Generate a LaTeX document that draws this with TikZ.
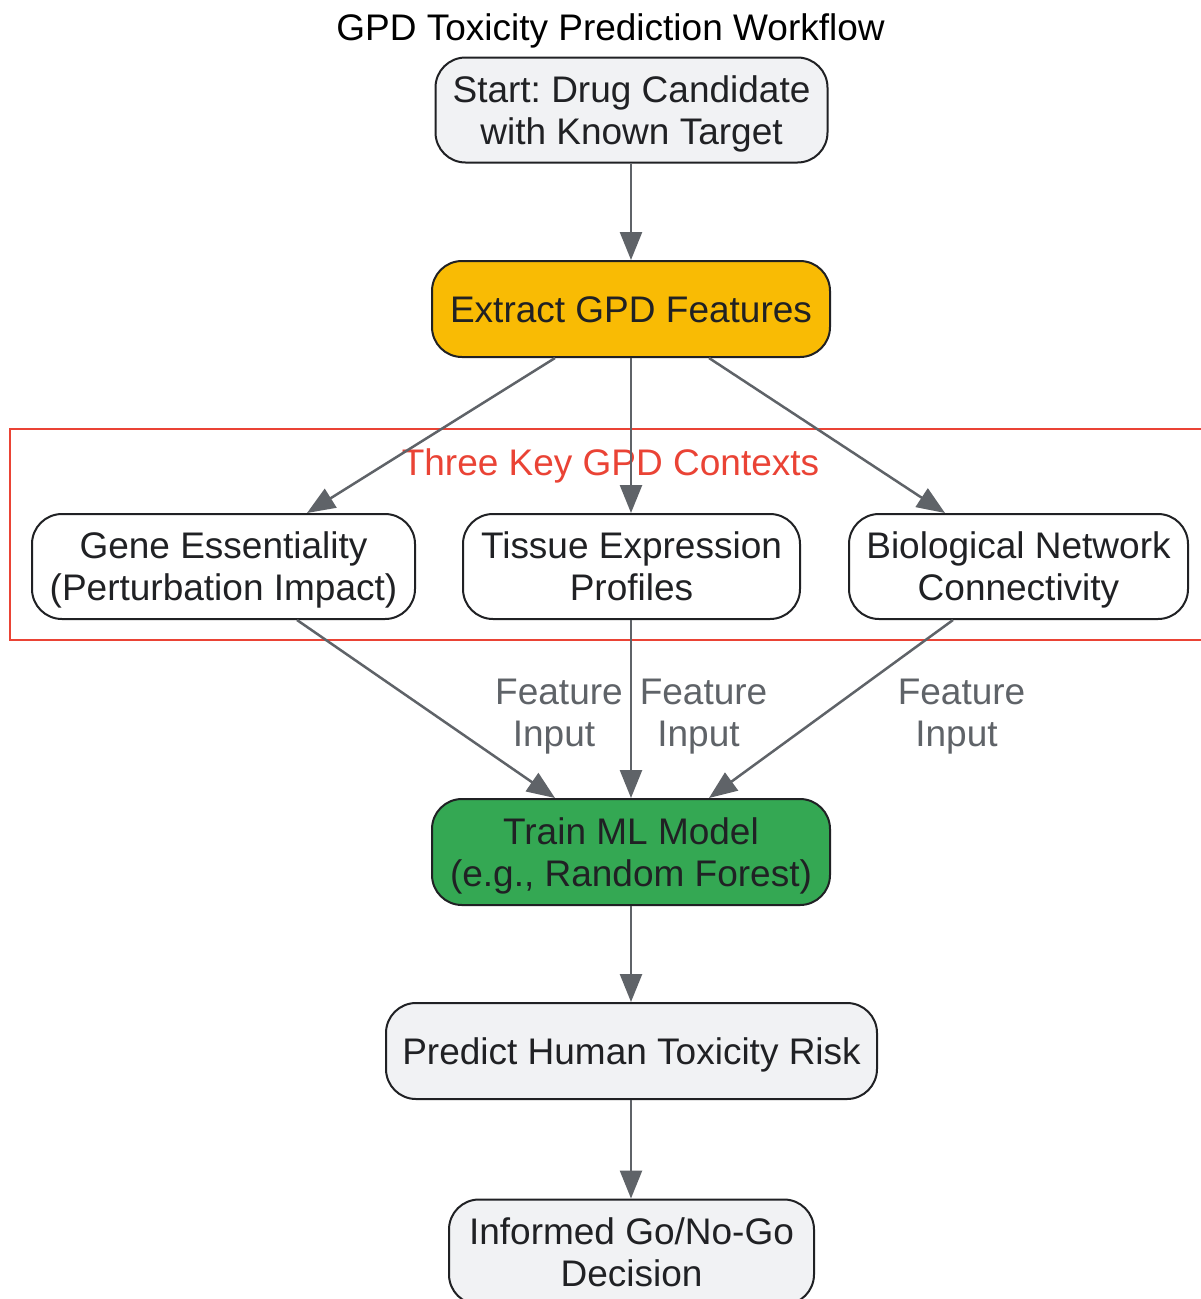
\documentclass[tikz,border=0pt]{standalone}
\usepackage{fontspec}
\setmainfont{Liberation Sans}
\frenchspacing
\usetikzlibrary{arrows.meta,calc}
\definecolor{boxline}{HTML}{202124}
\definecolor{lightfill}{HTML}{F1F2F4}
\definecolor{yelfill}{HTML}{F9BB04}
\definecolor{grnfill}{HTML}{34A853}
\definecolor{redline}{HTML}{EA4335}
\definecolor{arrgrey}{HTML}{5F6368}
\newcommand\topst{\rule{0pt}{34pt}}
\newcommand\botst{\rule[-8pt]{0pt}{8pt}}
\begin{document}
\begin{tikzpicture}[x=1pt,y=-1pt,
  txt/.style={font=\fontsize{37}{42}\selectfont, align=center, inner sep=0pt},
  box/.style={txt, draw=boxline, line width=2pt, rounded corners=30pt, text=boxline},
  arr/.style={draw=arrgrey, line width=2.5pt, -{Triangle[length=28pt,width=22pt]}},
  elabel/.style={txt, text=arrgrey}]
\useasboundingbox (0,0) rectangle (1201,1299);
\fill[white] (0,0) rectangle (1201,1299);

\node[txt, text=black] (title) at (610.5,27) {\topst GPD Toxicity Prediction Workflow\botst};

\draw[redline, line width=2pt] (10,429) rectangle (1215,640);
\node[txt, text=redline] (clabel) at (610.5,462) {\topst Three Key GPD Contexts\botst};

\node[box, fill=lightfill, minimum width=392pt, minimum height=105pt] (start) at (631.5,110) {\topst Start: Drug Candidate\\with Known Target\botst};
\node[box, fill=yelfill, minimum width=398pt, minimum height=96pt] (extract) at (631,309) {\topst Extract GPD Features\botst};
\node[box, fill=white, minimum width=383pt, minimum height=105pt] (gene) at (223.5,566.5) {\topst Gene Essentiality\\(Perturbation Impact)\botst};
\node[box, fill=white, minimum width=337pt, minimum height=105pt] (tissue) at (631.5,566.5) {\topst Tissue Expression\\Profiles\botst};
\node[box, fill=white, minimum width=339pt, minimum height=105pt] (bio) at (1018.5,566.5) {\topst Biological Network\\Connectivity\botst};
\node[box, fill=grnfill, minimum width=398pt, minimum height=106pt] (train) at (631,852) {\topst Train ML Model\\(e.g., Random Forest)\botst};
\node[box, fill=lightfill, minimum width=491pt, minimum height=96pt] (predict) at (631.5,1051) {\topst Predict Human Toxicity Risk\botst};
\node[box, fill=lightfill, minimum width=365pt, minimum height=105pt] (informed) at (631.5,1252) {\topst Informed Go/No-Go\\Decision\botst};

\draw[arr] (start.south -| extract.north) -- (extract.north);
\draw[arr] ($(extract.south)+(-76,0)$) -- ($(gene.north)+(83.5,0)$);
\draw[arr] (extract.south) -- (tissue.north -| extract.south);
\draw[arr] ($(extract.south)+(78,0)$) -- ($(bio.north)+(-73.5,0)$);
\draw[arr] ($(gene.south)+(73.5,0)$) -- ($(train.north)+(-76,0)$);
\draw[arr] (tissue.south -| train.north) -- (train.north);
\draw[arr] ($(bio.south)+(-65.5,0)$) -- ($(train.north)+(78,0)$);
\draw[arr] (train.south) -- (predict.north -| train.south);
\draw[arr] (predict.south -| train.south) -- (informed.north -| train.south);

\node[elabel] (l1) at (559,712) {\topst Feature\\Input\hspace*{10pt}\botst};
\node[elabel] (l2) at (703.5,712) {\topst Feature\\Input\hspace*{10pt}\botst};
\node[elabel] (l3) at (961.5,712) {\topst Feature\\Input\hspace*{10pt}\botst};
\end{tikzpicture}
\end{document}
